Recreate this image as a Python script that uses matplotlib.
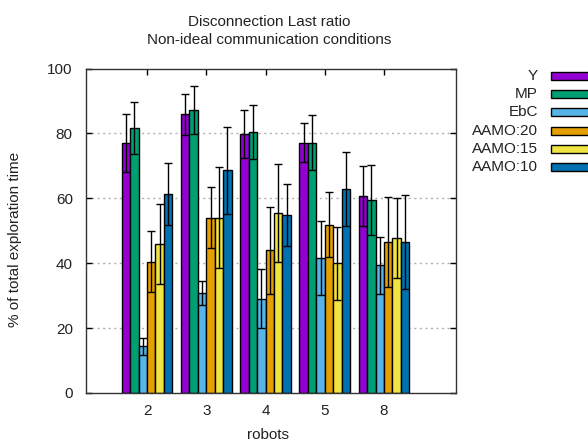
import matplotlib
matplotlib.use("Agg")
import matplotlib.pyplot as plt
from matplotlib.patches import Rectangle
import numpy as np

plt.rcParams['font.family'] = ['Liberation Sans', 'DejaVu Sans']

robots = ["2", "3", "4", "5", "8"]
series = ["Y", "MP", "EbC", "AAMO:20", "AAMO:15", "AAMO:10"]
colors = ["#9400D3", "#009E73", "#56B4E9", "#E69F00", "#F0E442", "#0072B2"]

mean_y = [77.1, 85.9, 79.7, 77.1, 60.7]
mean_mp = [81.7, 87.2, 80.3, 77.1, 59.5]
mean_ebc = [14.4, 30.8, 29.1, 41.6, 39.4]
mean_a20 = [40.5, 54.0, 44.0, 51.9, 46.6]
mean_a15 = [45.9, 54.0, 55.5, 40.0, 47.7]
mean_a10 = [61.3, 68.6, 54.8, 62.8, 46.6]

err_y = [9.0, 6.3, 7.4, 6.0, 9.3]
err_mp = [8.0, 7.3, 8.3, 8.5, 10.7]
err_ebc = [2.6, 3.8, 9.0, 11.3, 8.8]
err_a20 = [9.3, 9.4, 13.4, 10.0, 13.8]
err_a15 = [12.4, 15.5, 15.0, 11.3, 12.3]
err_a10 = [9.5, 13.3, 9.5, 11.4, 14.4]

means = [mean_y, mean_mp, mean_ebc, mean_a20, mean_a15, mean_a10]
errs = [err_y, err_mp, err_ebc, err_a20, err_a15, err_a10]

FS = 11
TXT = "#222222"

fig = plt.figure(figsize=(5.88, 4.43), dpi=100)
ax = fig.add_axes([86 / 588, 50 / 443, 370 / 588, 324.5 / 443])

x = np.arange(len(robots))
w = 1.0 / 7
for i, (m, e, c) in enumerate(zip(means, errs, colors)):
    pos = x + (i - 2.5) * w
    ax.bar(pos, m, width=w, color=c, edgecolor="black", linewidth=1.0, zorder=2)
    ax.errorbar(pos, m, yerr=e, fmt="none", ecolor="black", elinewidth=1.0,
                capsize=3.2, capthick=1.0, zorder=3)

ax.set_xlim(-1.03, 5.215)
ax.set_ylim(0, 100)
ax.set_yticks([0, 20, 40, 60, 80, 100])
ax.set_xticks(x)
ax.set_xticklabels(robots)
for yv in [20, 40, 60, 80]:
    ax.axhline(yv, color="#b0b0b0", linestyle=(0, (1.5, 2.5)), linewidth=1.0, zorder=1)

ax.tick_params(direction="in", length=4, width=1, top=True, right=True,
               labelsize=FS, colors="black", labelcolor=TXT)
ax.tick_params(axis="x", pad=8)
ax.tick_params(axis="y", pad=9.5)
for s in ax.spines.values():
    s.set_linewidth(1.0)
    s.set_color("#333333")

ax.set_xlabel("robots", fontsize=FS, color=TXT)
ax.set_ylabel("% of total exploration time", fontsize=FS, color=TXT)
ax.xaxis.set_label_coords((268 - 86) / 370, (393 - 435) / 324.5)
ax.xaxis.label.set_va("center")
ax.yaxis.set_label_coords((15 - 86) / 370, (393 - 239) / 324.5)
ax.yaxis.label.set_va("center")

fig.text(269 / 588, 1 - 22 / 443, "Disconnection Last ratio", ha="center", va="center",
         fontsize=FS, color=TXT)
fig.text(269 / 588, 1 - 40 / 443, "Non-ideal communication conditions", ha="center",
         va="center", fontsize=FS, color=TXT)

# legend on the right edge: right-aligned names with colour swatches
for k, (name, c) in enumerate(zip(series, colors)):
    yc = 76 + k * 18.2
    fig.text(538 / 588, 1 - yc / 443, name, ha="right", va="center", fontsize=FS,
             color=TXT)
    fig.patches.append(Rectangle((551 / 588, 1 - (yc + 4) / 443), 50 / 588, 8 / 443,
                                 transform=fig.transFigure, facecolor=c,
                                 edgecolor="black", linewidth=1.0))

fig.savefig("out.png", dpi=100)
